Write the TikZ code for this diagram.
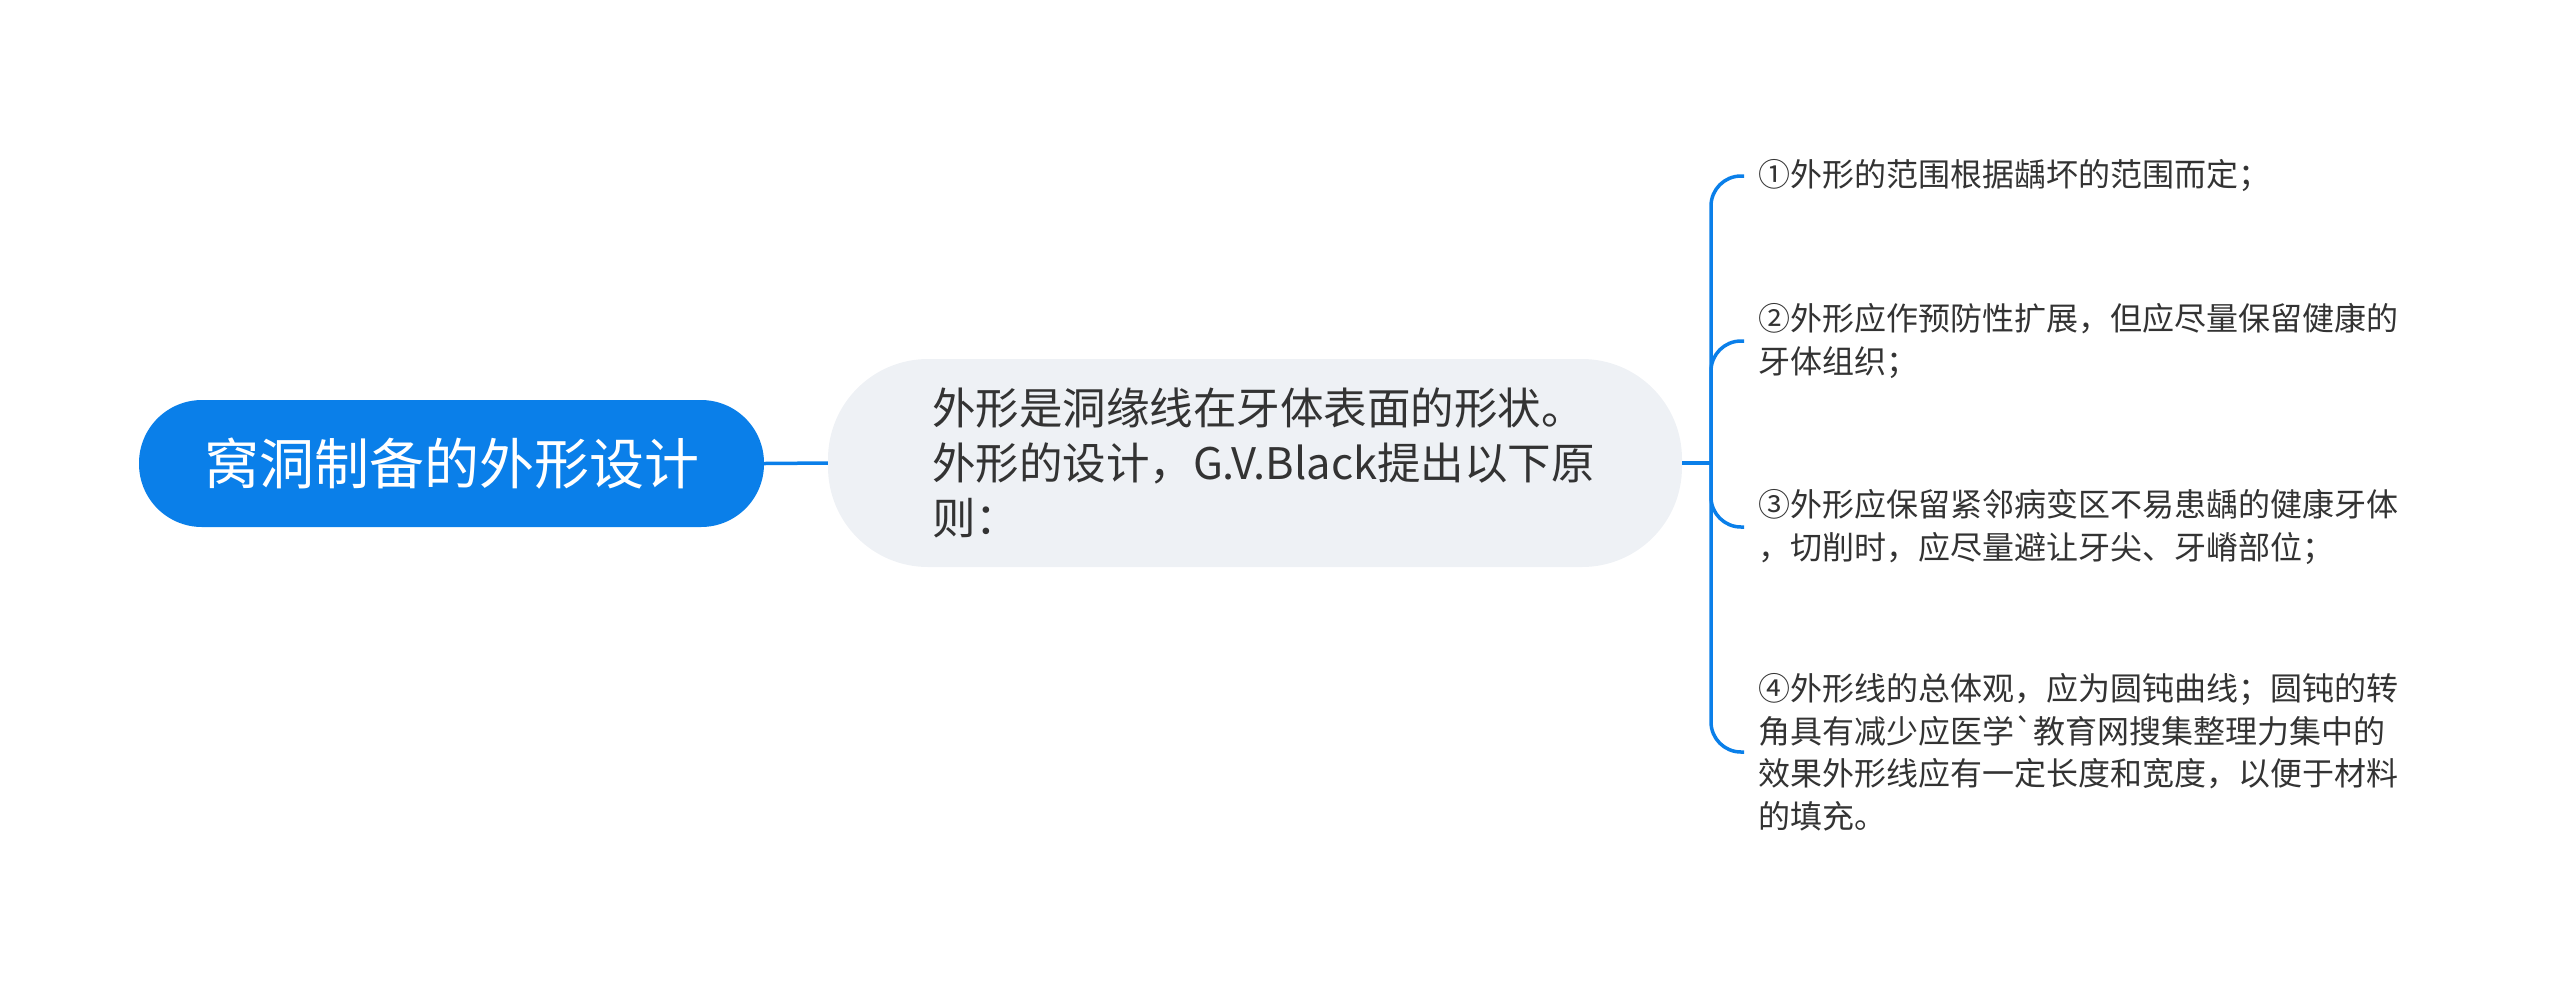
\documentclass[tikz,border=0pt]{standalone}
\usepackage{fontspec}
\setmainfont{Noto Sans CJK SC}[Ligatures=TeXOff]
\definecolor{mapblue}{HTML}{0A7FE9}
\definecolor{bubblegray}{HTML}{EEF1F5}
\definecolor{inkgray}{HTML}{333333}

\begin{document}
\begin{tikzpicture}[x=1pt,y=-1pt,
  rootnode/.style={fill=mapblue, text=white, rounded corners=63pt, minimum width=625pt, minimum height=127pt, inner sep=0pt, font=\fontsize{55pt}{66pt}\selectfont},
  topicnode/.style={fill=bubblegray, text=inkgray, rounded corners=100pt, text width=646pt, inner xsep=104pt, inner ysep=0pt, minimum height=208pt, align=left, font=\fontsize{43.5pt}{55pt}\selectfont},
  leafnode/.style={anchor=west, text=inkgray, inner xsep=14pt, inner ysep=0pt, align=left, font=\fontsize{32pt}{42.5pt}\selectfont},
  branch/.style={draw=mapblue, line width=3.5pt, rounded corners=30pt}]
\useasboundingbox (0,0) rectangle (2560,989);
\node[rootnode] (root) at (451.5,463.5) {窝洞制备的外形设计};
\node[topicnode] (topic) at (1255,463) {外形是洞缘线在牙体表面的形状。\\外形的设计，G.V.Black提出以下原\\则：};
\coordinate (fork) at (1711,463);
\node[leafnode] (leaf1) at (1744,176) {①外形的范围根据龋坏的范围而定；};
\node[leafnode] (leaf2) at (1744,341) {②外形应作预防性扩展，但应尽量保留健康的\\牙体组织；};
\node[leafnode] (leaf3) at (1744,527) {③外形应保留紧邻病变区不易患龋的健康牙体\\，切削时，应尽量避让牙尖、牙嵴部位；};
\node[leafnode] (leaf4) at (1744,752) {④外形线的总体观，应为圆钝曲线；圆钝的转\\角具有减少应医学`教育网搜集整理力集中的\\效果外形线应有一定长度和宽度，以便于材料\\的填充。};
% connectors
\draw[branch] (root.east) -- (topic.west);
\draw[branch] (topic.east) -- (fork);
\foreach \n in {1,...,4}
  \draw[branch] (fork) |- (leaf\n.west);
\end{tikzpicture}
\end{document}
